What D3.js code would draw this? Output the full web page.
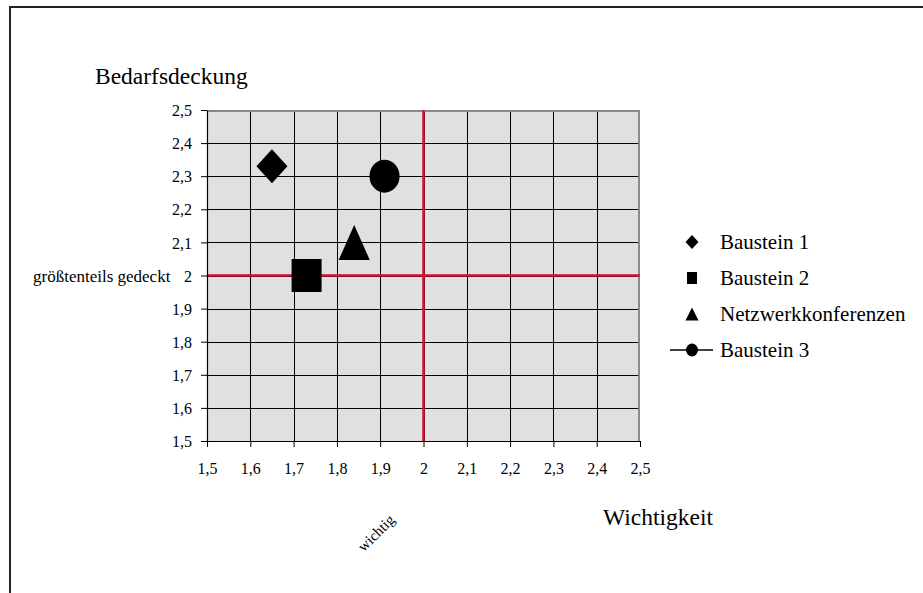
<!DOCTYPE html>
<html><head><meta charset="utf-8">
<script src="https://cdn.jsdelivr.net/npm/d3@7"></script>
<style>html,body{margin:0;padding:0;background:#fff}svg{display:block}svg text{font-family:"Liberation Serif","Times New Roman",serif !important;fill:#000}</style>
</head><body>
<script>
const seriesNames = ["Baustein 1","Baustein 2","Netzwerkkonferenzen","Baustein 3"];
const seriesShapes = ["diamond","square","triangle","circle"];
const xValues = [1.65, 1.73, 1.84, 1.91];
const yValues = [2.33, 2.0, 2.1, 2.3];
const tickValues = [1.5,1.6,1.7,1.8,1.9,2.0,2.1,2.2,2.3,2.4,2.5];
const refX = 2.0, refY = 2.0;
const yTitle = "Bedarfsdeckung", xTitle = "Wichtigkeit";
const yNote = "größtenteils gedeckt", xNote = "wichtig";

const W = 923, H = 593;
const svg = d3.select("body").append("svg").attr("width", W).attr("height", H)
  .attr("font-family","'Liberation Serif',serif");
const x = d3.scaleLinear().domain([1.5,2.5]).range([207,640]);
const y = d3.scaleLinear().domain([1.5,2.5]).range([441,110]);
const fmt = d => String(+d.toFixed(1)).replace(".", ",");

// frame
svg.append("path").attr("d","M10,593V7H923").attr("fill","none").attr("stroke","#222").attr("stroke-width",2);

// plot background
svg.append("rect").attr("x",x(1.5)).attr("y",y(2.5)).attr("width",x(2.5)-x(1.5)).attr("height",y(1.5)-y(2.5)).attr("fill","#e0e0e0");

// grid
const g = svg.append("g").attr("shape-rendering","crispEdges");
g.selectAll(".vg").data(tickValues.slice(1,-1)).join("line")
  .attr("x1",d=>Math.round(x(d))+0.5).attr("x2",d=>Math.round(x(d))+0.5).attr("y1",y(2.5)).attr("y2",y(1.5)).attr("stroke","#000");
g.selectAll(".hg").data(tickValues.slice(1,-1)).join("line")
  .attr("y1",d=>Math.round(y(d))+0.5).attr("y2",d=>Math.round(y(d))+0.5).attr("x1",x(1.5)).attr("x2",x(2.5)).attr("stroke","#000");
// top/right border grey
g.append("path").attr("d",`M${x(1.5)},${y(2.5)+1}H${x(2.5)-1}V${y(1.5)}`).attr("fill","none").attr("stroke","#8a8a8a").attr("stroke-width",2);

// reference lines
svg.append("line").attr("x1",x(refX)).attr("x2",x(refX)).attr("y1",y(2.5)).attr("y2",y(1.5)).attr("stroke","#d0103a").attr("stroke-width",2.5);
svg.append("line").attr("y1",y(refY)).attr("y2",y(refY)).attr("x1",x(1.5)).attr("x2",x(2.5)).attr("stroke","#d0103a").attr("stroke-width",2.5);

// axes
const xAxis = svg.append("g").attr("transform",`translate(0,${y(1.5)})`)
  .call(d3.axisBottom(x).tickValues(tickValues).tickFormat(fmt).tickSize(6).tickSizeOuter(0));
const yAxis = svg.append("g").attr("transform",`translate(${x(1.5)},0)`)
  .call(d3.axisLeft(y).tickValues(tickValues).tickFormat(fmt).tickSize(6).tickSizeOuter(0));
[xAxis,yAxis].forEach(a=>{
  a.attr("font-family",null).attr("font-size",null);
  a.select(".domain").attr("stroke","#000").attr("stroke-width",1.2);
  a.selectAll(".tick line").attr("stroke","#000");
  a.selectAll("text").style("font-size","16px").attr("fill","#000");
});
xAxis.selectAll("text").attr("dy",0).attr("y",33);
yAxis.selectAll("text").attr("x",-15).attr("dy","0.35em");

// titles
svg.append("text").attr("x",95).attr("y",84).style("font-size","23.5px").text(yTitle);
svg.append("text").attr("x",603).attr("y",525).style("font-size","23.5px").text(xTitle);
svg.append("text").attr("x",33).attr("y",y(2.0)+6).style("font-size","17px").text(yNote);
svg.append("text").attr("transform","translate(376,533) rotate(-45)").attr("text-anchor","middle").attr("dy","0.35em").style("font-size","15px").text(xNote);

// markers
function shapePath(type, w, h){
  if(type==="diamond") return `M0,${-h/2}L${w/2},0L0,${h/2}L${-w/2},0Z`;
  if(type==="square") return `M${-w/2},${-h/2}H${w/2}V${h/2}H${-w/2}Z`;
  if(type==="triangle") return `M0,${-h/2}L${w/2},${h/2}L${-w/2},${h/2}Z`;
  const rx=w/2, ry=h/2;
  return `M${-rx},0A${rx},${ry} 0 1,0 ${rx},0A${rx},${ry} 0 1,0 ${-rx},0Z`;
}
const markW = [31,30,31,30], markH = [34,33,35,33];
svg.selectAll(".pt").data(seriesNames).join("path")
  .attr("transform",(d,i)=>`translate(${x(xValues[i])},${y(yValues[i])})`)
  .attr("d",(d,i)=>shapePath(seriesShapes[i], markW[i], markH[i])).attr("fill","#000");

// legend
const legY = [242,278,314,350];
const legW = [13,10,13,12], legH = [14,12,13,13];
const lg = svg.selectAll(".lg").data(seriesNames).join("g").attr("transform",(d,i)=>`translate(692,${legY[i]})`);
lg.each(function(d,i){
  const s = d3.select(this);
  if(seriesShapes[i]==="circle") s.append("line").attr("x1",-22).attr("x2",21).attr("stroke","#000").attr("stroke-width",1.3);
  s.append("path").attr("d",shapePath(seriesShapes[i], legW[i], legH[i])).attr("fill","#000");
  s.append("text").attr("x",28).attr("dy","0.33em").style("font-size","21px").text(d);
});
</script>
</body></html>
